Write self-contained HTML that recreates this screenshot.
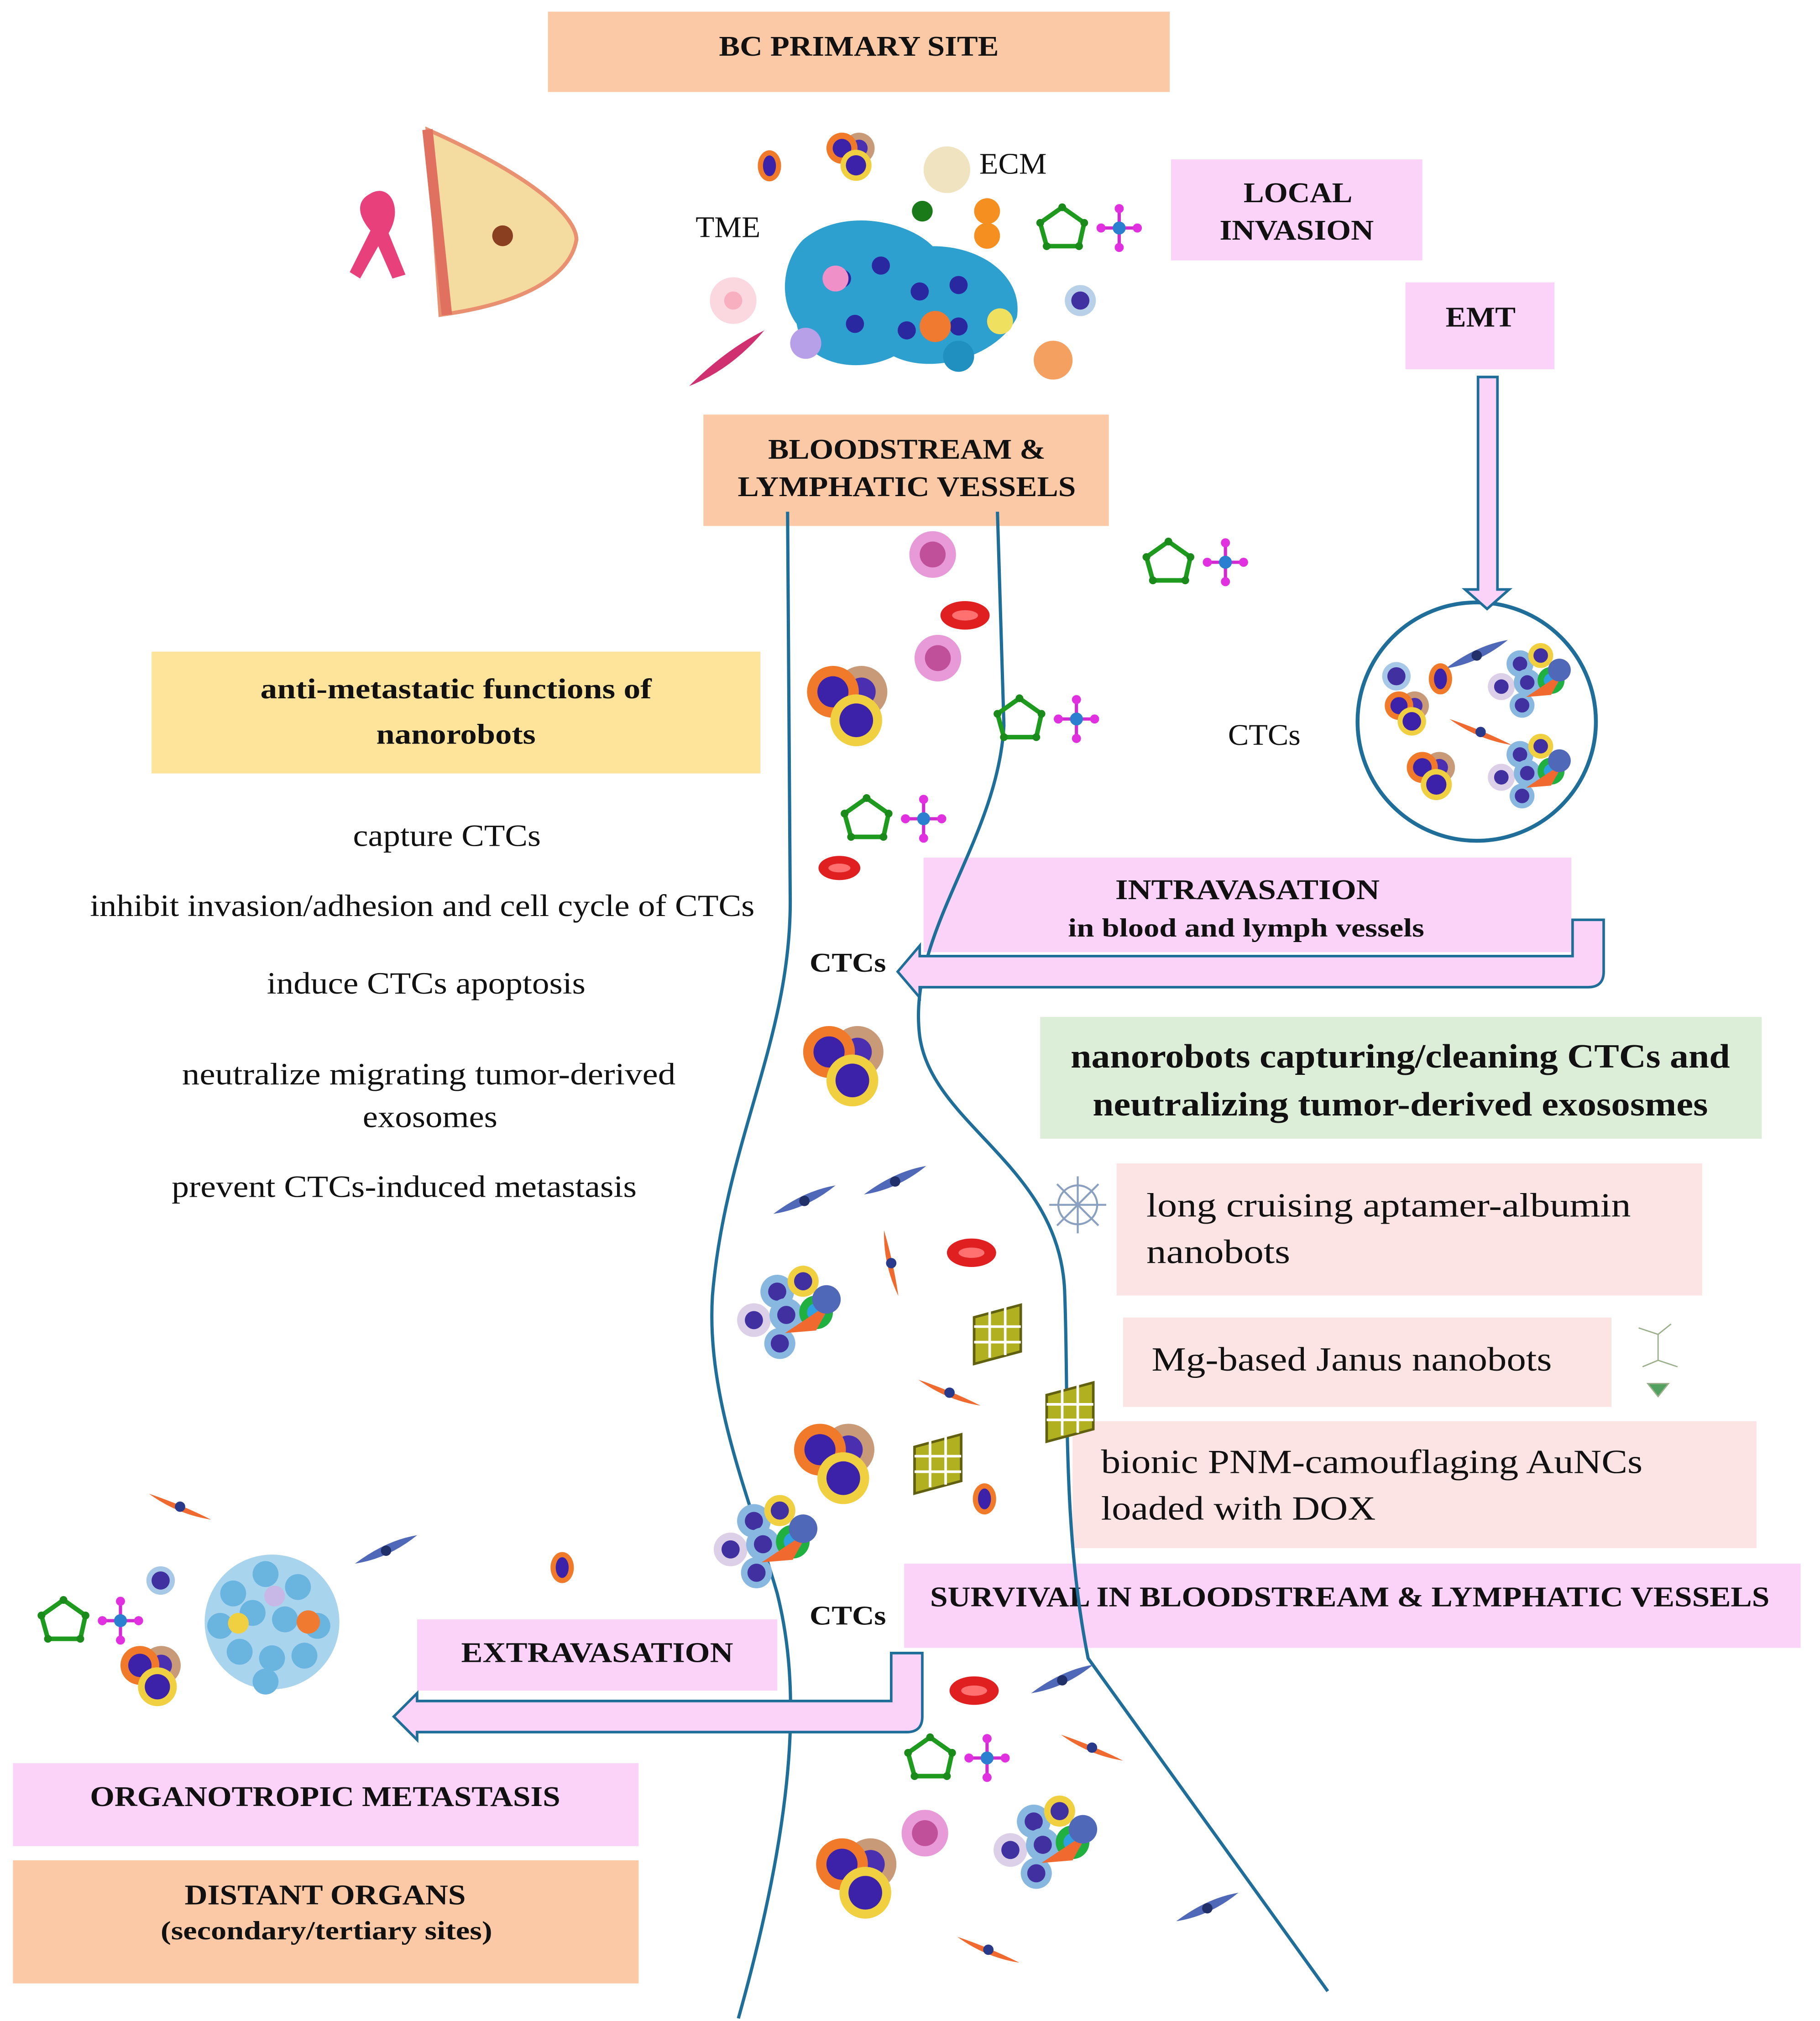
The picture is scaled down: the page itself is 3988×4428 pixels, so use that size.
<!DOCTYPE html>
<html><head><meta charset="utf-8"><style>
html,body{margin:0;padding:0;background:#fff}
svg{display:block}
text{font-family:"Liberation Serif",serif;fill:#111}
.b{font-weight:bold}
</style></head><body>
<svg width="3988" height="4428" viewBox="0 0 1405 1560" xmlns="http://www.w3.org/2000/svg">
<defs>
 <g id="nb">
  <polygon points="0,-16 17,-4 13,14 -12,14 -17,-4" fill="none" stroke="#1e9a1e" stroke-width="3.5"/>
  <g fill="#1a8a1a"><circle cx="0" cy="-16" r="3"/><circle cx="17" cy="-4" r="3"/><circle cx="13" cy="14" r="3"/><circle cx="-12" cy="14" r="3"/><circle cx="-17" cy="-4" r="3"/></g>
  <g transform="translate(44,0)"><line x1="-14" y1="0" x2="14" y2="0" stroke="#d02ad0" stroke-width="2.5"/><line x1="0" y1="-15" x2="0" y2="15" stroke="#d02ad0" stroke-width="2.5"/><circle r="5" fill="#2a7fd0"/><g fill="#e030e0"><circle cx="-14" r="3.5"/><circle cx="14" r="3.5"/><circle cy="-15" r="3.5"/><circle cy="15" r="3.5"/></g></g>
 </g>
 <g id="c3">
  <circle cx="22" cy="-6" r="20" fill="#c89a78"/><circle cx="22" cy="-6" r="11" fill="#4a2fb0"/>
  <circle cx="0" cy="-6" r="20" fill="#f07a2a"/><circle cx="0" cy="-6" r="12" fill="#3b22a8"/>
  <circle cx="18" cy="16" r="20" fill="#f0d040"/><circle cx="18" cy="16" r="13" fill="#3b22a8"/>
 </g>
 <g id="rbc"><ellipse rx="19" ry="11" fill="#e02020"/><ellipse rx="10" ry="4" fill="#ff7070"/></g>
 <g id="sp"><path d="M-24,10 Q0,-8 24,-12 Q2,6 -24,10Z" fill="#5068b8"/><circle r="4" fill="#22306a"/></g>
 <g id="osp"><path d="M-24,-10 Q0,-2 24,10 Q-2,6 -24,-10Z" fill="#f06a30"/><circle r="4" fill="#2a3a8a"/></g>
 <g id="mac"><circle r="18" fill="#e89ad8"/><circle r="10" fill="#c0509a"/></g>
 <g id="mix">
  <circle cx="-30" cy="10" r="13" fill="#dcd0e8"/><circle cx="-30" cy="10" r="7" fill="#4030a0"/>
  <circle cx="-12" cy="-12" r="13" fill="#88b8e0"/><circle cx="-12" cy="-12" r="7" fill="#4030a0"/>
  <circle cx="8" cy="-20" r="12" fill="#f0d040"/><circle cx="8" cy="-20" r="7" fill="#4030a0"/>
  <circle cx="-5" cy="6" r="13" fill="#88b8e0"/><circle cx="-5" cy="6" r="7" fill="#4030a0"/>
  <circle cx="18" cy="4" r="13" fill="#20b040"/><circle cx="18" cy="4" r="7" fill="#30a0e0"/>
  <circle cx="-10" cy="28" r="12" fill="#88b8e0"/><circle cx="-10" cy="28" r="7" fill="#4030a0"/>
  <path d="M-6,20 L30,-4 L18,18Z" fill="#f06a30"/>
  <circle cx="26" cy="-6" r="11" fill="#5068b8"/>
 </g>
 <g id="cage"><rect x="-18" y="-18" width="36" height="36" fill="#b0b020" stroke="#606010" stroke-width="2" transform="skewY(-15)"/><g stroke="#fff" stroke-width="2"><line x1="-18" y1="-6" x2="18" y2="-6"/><line x1="-18" y1="6" x2="18" y2="6"/><line x1="-6" y1="-22" x2="-6" y2="18"/><line x1="6" y1="-24" x2="6" y2="16"/></g></g>
 <g id="lym"><circle r="11" fill="#a8c8e8"/><circle r="7" fill="#4030a0"/></g>
 <g id="ooc"><ellipse rx="9" ry="12" fill="#f07a2a"/><ellipse rx="5" ry="8" fill="#3b22a8"/></g>
</defs>

<!-- boxes -->
<g lengthAdjust="spacingAndGlyphs">
<rect x="423" y="9" width="480" height="62" fill="#fcc9a6"/>
<text x="663" y="43" text-anchor="middle" class="b" font-size="22" textLength="216" lengthAdjust="spacingAndGlyphs">BC PRIMARY SITE</text>
<rect x="904" y="123" width="194" height="78" fill="#fbd3f9"/>
<text x="1002" y="156" text-anchor="middle" class="b" font-size="22" textLength="84" lengthAdjust="spacingAndGlyphs">LOCAL</text>
<text x="1001" y="185" text-anchor="middle" class="b" font-size="22" textLength="119" lengthAdjust="spacingAndGlyphs">INVASION</text>
<rect x="1085" y="218" width="115" height="67" fill="#fbd3f9"/>
<text x="1143" y="252" text-anchor="middle" class="b" font-size="22" textLength="54" lengthAdjust="spacingAndGlyphs">EMT</text>
<rect x="543" y="320" width="313" height="86" fill="#fcc9a6"/>
<text x="700" y="354" text-anchor="middle" class="b" font-size="22" textLength="214" lengthAdjust="spacingAndGlyphs">BLOODSTREAM &amp;</text>
<text x="700" y="383" text-anchor="middle" class="b" font-size="22" textLength="261" lengthAdjust="spacingAndGlyphs">LYMPHATIC VESSELS</text>
<rect x="117" y="503" width="470" height="94" fill="#fde49a"/>
<text x="352" y="539" text-anchor="middle" class="b" font-size="22" textLength="302" lengthAdjust="spacingAndGlyphs">anti-metastatic functions of</text>
<text x="352" y="574" text-anchor="middle" class="b" font-size="22" textLength="123" lengthAdjust="spacingAndGlyphs">nanorobots</text>
<rect x="713" y="662" width="500" height="73" fill="#fbd3f9"/>
<text x="963" y="694" text-anchor="middle" class="b" font-size="22" textLength="204" lengthAdjust="spacingAndGlyphs">INTRAVASATION</text>
<text x="962" y="723" text-anchor="middle" class="b" font-size="20" textLength="275" lengthAdjust="spacingAndGlyphs">in blood and lymph vessels</text>
<rect x="803" y="785" width="557" height="94" fill="#dcedd8"/>
<text x="1081" y="824" text-anchor="middle" class="b" font-size="26" textLength="509" lengthAdjust="spacingAndGlyphs">nanorobots capturing/cleaning CTCs and</text>
<text x="1081" y="861" text-anchor="middle" class="b" font-size="26" textLength="475" lengthAdjust="spacingAndGlyphs">neutralizing tumor-derived exososmes</text>
<rect x="862" y="898" width="452" height="102" fill="#fce4e4"/>
<text x="885" y="939" font-size="26" textLength="374" lengthAdjust="spacingAndGlyphs">long cruising aptamer-albumin</text>
<text x="885" y="975" font-size="26" textLength="111" lengthAdjust="spacingAndGlyphs">nanobots</text>
<rect x="867" y="1017" width="377" height="69" fill="#fce4e4"/>
<text x="889" y="1058" font-size="26" textLength="309" lengthAdjust="spacingAndGlyphs">Mg-based Janus nanobots</text>
<rect x="828" y="1097" width="528" height="98" fill="#fce4e4"/>
<text x="850" y="1137" font-size="26" textLength="418" lengthAdjust="spacingAndGlyphs">bionic PNM-camouflaging AuNCs</text>
<text x="850" y="1173" font-size="26" textLength="212" lengthAdjust="spacingAndGlyphs">loaded with DOX</text>
<rect x="698" y="1207" width="692" height="65" fill="#fbd3f9"/>
<text x="1042" y="1240" text-anchor="middle" class="b" font-size="22" textLength="648" lengthAdjust="spacingAndGlyphs">SURVIVAL IN BLOODSTREAM &amp; LYMPHATIC VESSELS</text>
<rect x="322" y="1250" width="278" height="55" fill="#fbd3f9"/>
<text x="461" y="1283" text-anchor="middle" class="b" font-size="22" textLength="210" lengthAdjust="spacingAndGlyphs">EXTRAVASATION</text>
<rect x="10" y="1361" width="483" height="64" fill="#fbd3f9"/>
<text x="251" y="1394" text-anchor="middle" class="b" font-size="22" textLength="363" lengthAdjust="spacingAndGlyphs">ORGANOTROPIC METASTASIS</text>
<rect x="10" y="1436" width="483" height="95" fill="#fcc9a6"/>
<text x="251" y="1470" text-anchor="middle" class="b" font-size="22" textLength="217" lengthAdjust="spacingAndGlyphs">DISTANT ORGANS</text>
<text x="252" y="1497" text-anchor="middle" class="b" font-size="20" textLength="256" lengthAdjust="spacingAndGlyphs">(secondary/tertiary sites)</text>

<!-- left list -->
<text x="345" y="653" text-anchor="middle" font-size="24" textLength="145" lengthAdjust="spacingAndGlyphs">capture CTCs</text>
<text x="326" y="707" text-anchor="middle" font-size="24" textLength="513" lengthAdjust="spacingAndGlyphs">inhibit invasion/adhesion and cell cycle of CTCs</text>
<text x="329" y="767" text-anchor="middle" font-size="24" textLength="246" lengthAdjust="spacingAndGlyphs">induce CTCs apoptosis</text>
<text x="331" y="837" text-anchor="middle" font-size="24" textLength="381" lengthAdjust="spacingAndGlyphs">neutralize migrating tumor-derived</text>
<text x="332" y="870" text-anchor="middle" font-size="24" textLength="104" lengthAdjust="spacingAndGlyphs">exosomes</text>
<text x="312" y="924" text-anchor="middle" font-size="24" textLength="359" lengthAdjust="spacingAndGlyphs">prevent CTCs-induced metastasis</text>
<text x="537" y="183" font-size="23" textLength="50" lengthAdjust="spacingAndGlyphs">TME</text>
<text x="756" y="134" font-size="23" textLength="52" lengthAdjust="spacingAndGlyphs">ECM</text>
<text x="948" y="575" font-size="23" textLength="56" lengthAdjust="spacingAndGlyphs">CTCs</text>
<text x="625" y="750" class="b" font-size="21" textLength="59" lengthAdjust="spacingAndGlyphs">CTCs</text>
<text x="625" y="1254" class="b" font-size="21" textLength="59" lengthAdjust="spacingAndGlyphs">CTCs</text>
</g>

<!-- vessels -->
<g fill="none" stroke="#1f6e9a" stroke-width="2.5">
<path d="M608,395 L610,690 C612,800 560,880 550,1000 C545,1080 580,1160 600,1230 C615,1290 620,1380 570,1558"/>
<path d="M770,395 L775,560 C770,650 700,720 710,800 C720,870 820,900 822,1000 C825,1080 820,1180 840,1280 L1025,1537"/>
<circle cx="1140" cy="557" r="92" stroke-width="3"/>
</g>

<!-- arrows -->
<path d="M1141,291 H1156 V455 H1165 L1148,470 L1131,455 H1141 Z" fill="#fbd3f9" stroke="#1f6e9a" stroke-width="2"/>
<path d="M1214,710 H1238 V750 Q1238,762 1226,762 H710 L710,770 L693,750 L710,730 L710,738 H1214 Z" fill="#fbd3f9" stroke="#1f6e9a" stroke-width="2"/>
<path d="M688,1276 H712 V1325 Q712,1337 700,1337 H322 L322,1343 L304,1325 L322,1307 L322,1313 H688 Z" fill="#fbd3f9" stroke="#1f6e9a" stroke-width="2"/>

<!-- breast & ribbon -->
<path d="M285,150 C300,140 312,160 300,180 L313,212 L303,215 L292,190 L278,215 L270,210 L286,178 C275,165 276,155 285,150Z" fill="#e8407a"/>
<path d="M330,100 C420,140 445,170 445,185 C440,215 400,235 340,243 Z" fill="#f4dca0" stroke="#e89070" stroke-width="3"/>
<path d="M330,100 L345,243" stroke="#e07060" stroke-width="8"/>
<circle cx="388" cy="182" r="8" fill="#8a4020"/>

<!-- tumor cluster -->
<path d="M620,185 C650,160 700,170 720,190 C760,190 790,215 785,245 C770,275 720,290 690,275 C660,290 620,280 615,250 C600,230 605,200 620,185Z" fill="#2ea0d0"/>
<g fill="#2a28a0"><circle cx="650" cy="215" r="7"/><circle cx="680" cy="205" r="7"/><circle cx="710" cy="225" r="7"/><circle cx="740" cy="220" r="7"/><circle cx="660" cy="250" r="7"/><circle cx="700" cy="255" r="7"/><circle cx="740" cy="252" r="7"/></g>
<circle cx="722" cy="252" r="12" fill="#f07a30"/><circle cx="740" cy="275" r="12" fill="#2090c0"/>
<circle cx="622" cy="265" r="12" fill="#b8a0e8"/><circle cx="772" cy="248" r="10" fill="#f0e060"/>
<circle cx="645" cy="215" r="10" fill="#f090c8"/>
<use href="#ooc" x="594" y="128"/>
<use href="#c3" x="650" y="118" transform="translate(650,118) scale(0.6) translate(-650,-118)"/>
<circle cx="731" cy="131" r="18" fill="#f0e4c0"/>
<circle cx="712" cy="163" r="8" fill="#1a7a1a"/>
<circle cx="762" cy="163" r="10" fill="#f59020"/><circle cx="762" cy="182" r="10" fill="#f59020"/>
<circle cx="566" cy="232" r="18" fill="#fbd8e0"/><circle cx="566" cy="232" r="7" fill="#f8b0c0"/>
<path d="M532,298 Q560,270 590,255 Q565,285 532,298Z" fill="#d03070"/>
<circle cx="834" cy="232" r="12" fill="#b8d0e8"/><circle cx="834" cy="232" r="7" fill="#4030a0"/>
<circle cx="813" cy="278" r="15" fill="#f4a060"/>
<use href="#nb" x="820" y="176"/>
<use href="#nb" x="902" y="434"/>
<use href="#nb" x="787" y="555"/>
<use href="#nb" x="669" y="632"/>
<use href="#nb" x="49" y="1251"/>
<use href="#nb" x="718" y="1357"/>

<!-- vessel cells -->
<use href="#mac" x="720" y="428"/><use href="#mac" x="724" y="508"/><use href="#mac" x="714" y="1415"/>
<use href="#rbc" x="745" y="475"/><use href="#rbc" x="648" y="670" transform="translate(648,670) scale(0.85) translate(-648,-670)"/>
<use href="#rbc" x="750" y="967"/><use href="#rbc" x="752" y="1305"/>
<use href="#c3" x="643" y="540"/><use href="#c3" x="640" y="818"/><use href="#c3" x="633" y="1125"/><use href="#c3" x="650" y="1445"/><use href="#c3" x="108" y="1290" transform="translate(108,1290) scale(0.75) translate(-108,-1290)"/>
<use href="#c3" x="1080" y="548" transform="translate(1080,548) scale(0.55) translate(-1080,-548)"/>
<use href="#c3" x="1098" y="596" transform="translate(1098,596) scale(0.6) translate(-1098,-596)"/>
<use href="#sp" x="621" y="927"/><use href="#sp" x="691" y="912"/><use href="#sp" x="298" y="1197"/><use href="#sp" x="820" y="1297"/><use href="#sp" x="932" y="1473"/><use href="#sp" x="1140" y="506"/>
<use href="#osp" x="139" y="1163"/><use href="#osp" x="688" y="975" transform="rotate(55,688,975)"/><use href="#osp" x="733" y="1075"/><use href="#osp" x="843" y="1349"/><use href="#osp" x="763" y="1505"/><use href="#osp" x="1143" y="565"/>
<use href="#mix" x="612" y="1009"/><use href="#mix" x="594" y="1186"/><use href="#mix" x="810" y="1418"/><use href="#mix" x="1183" y="522" transform="translate(1183,522) scale(0.8) translate(-1183,-522)"/><use href="#mix" x="1183" y="592" transform="translate(1183,592) scale(0.8) translate(-1183,-592)"/>
<use href="#cage" x="770" y="1030"/><use href="#cage" x="826" y="1090"/><use href="#cage" x="724" y="1130"/>
<use href="#ooc" x="760" y="1157"/><use href="#ooc" x="434" y="1210"/><use href="#ooc" x="1112" y="524"/>
<use href="#lym" x="124" y="1220"/><use href="#lym" x="1078" y="522"/>

<!-- metastasis cluster -->
<g>
<circle cx="210" cy="1252" r="52" fill="#a8d4ee"/>
<g fill="#6ab4e0"><circle cx="180" cy="1230" r="10"/><circle cx="205" cy="1215" r="10"/><circle cx="230" cy="1225" r="10"/><circle cx="170" cy="1255" r="10"/><circle cx="195" cy="1245" r="10"/><circle cx="220" cy="1250" r="10"/><circle cx="245" cy="1255" r="10"/><circle cx="185" cy="1275" r="10"/><circle cx="210" cy="1280" r="10"/><circle cx="235" cy="1278" r="10"/><circle cx="205" cy="1298" r="10"/></g>
<circle cx="238" cy="1252" r="9" fill="#f07a30"/><circle cx="184" cy="1253" r="8" fill="#f0d040"/><circle cx="212" cy="1232" r="8" fill="#c8b8e8"/>
</g>
<!-- small nanobot icons -->
<g transform="translate(832,930)" stroke="#8aa0c0" stroke-width="1.5" fill="none"><circle r="15"/><line x1="-22" y1="0" x2="22" y2="0"/><line x1="0" y1="-22" x2="0" y2="22"/><line x1="-16" y1="-16" x2="16" y2="16"/><line x1="16" y1="-16" x2="-16" y2="16"/></g>
<g transform="translate(1280,1050)" stroke="#9ab08a" stroke-width="1" fill="none"><path d="M-15,-25 L0,-20 L10,-28 M0,-20 L0,0 L-12,5 M0,0 L15,5"/><polygon points="-8,18 8,18 0,28" fill="#50a060"/></g>
</svg>
</body></html>
